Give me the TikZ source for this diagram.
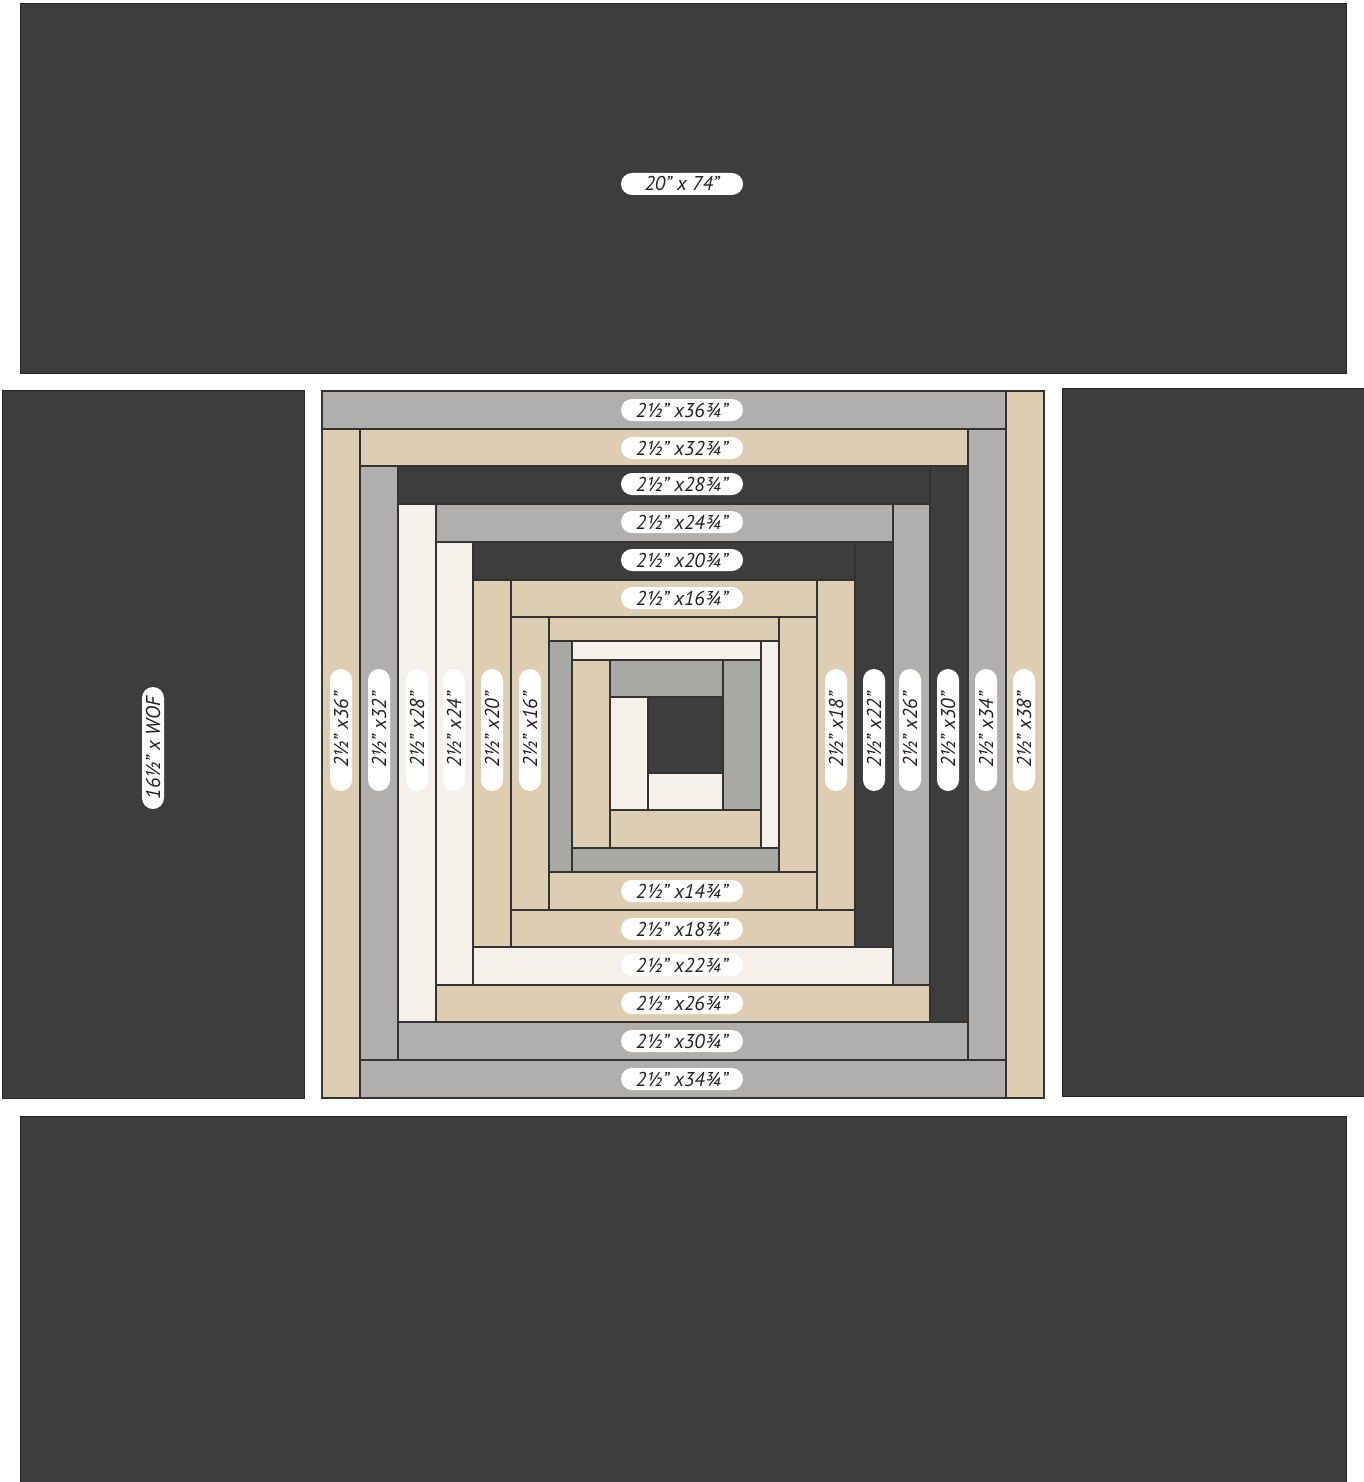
\documentclass[tikz,border=0pt]{standalone}
\usepackage{fontspec}
\setmainfont{PT Sans}
\definecolor{quiltdark}{RGB}{61,61,61}
\definecolor{quiltgray}{RGB}{176,175,173}
\definecolor{innergray}{RGB}{168,169,164}
\definecolor{quilttan}{RGB}{221,205,179}
\definecolor{quiltcream}{RGB}{245,240,234}
\definecolor{quiltink}{RGB}{35,31,32}
\tikzset{
	panel/.style={
		draw=black!85,
		fill=quiltdark,
		line width=1pt
	},
	strip/.style={
		draw=black!80,
		line width=1.2pt
	},
	tag/.style={
		fill=white,
		rounded corners=11pt,
		minimum width=122pt,
		minimum height=22pt,
		inner sep=0pt,
		text=quiltink,
		font=\itshape\fontsize{20}{20}\selectfont
	},
	vtag/.style={tag,rotate=90}
}

\begin{document}
\begin{tikzpicture}[x=1pt,y=-1pt]
	\useasboundingbox (0,0) rectangle (1364,1482);
	% background panels
	\draw[panel] (20,4) rectangle (1346,373);
	\draw[panel] (2,390) rectangle (304,1098);
	\draw[panel] (1062,388) rectangle (1364,1096);
	\draw[panel] (20,1116) rectangle (1346,1482);

	% log cabin block, outer rings
	\foreach \xa/\ya/\xb/\yb/\c in {
		322/391/1006/429/quiltgray, 1006/391/1044/1098/quilttan,
		322/429/360/1098/quilttan, 360/1060/1006/1098/quiltgray,
		968/429/1006/1060/quiltgray, 360/429/968/466/quilttan,
		360/466/398/1060/quiltgray, 398/1022/968/1060/quiltgray,
		930/466/968/1022/quiltdark, 398/466/930/504/quiltdark,
		398/504/436/1022/quiltcream, 436/985/930/1022/quilttan,
		893/504/930/985/quiltgray, 436/504/893/542/quiltgray,
		436/542/473/985/quiltcream, 473/947/893/985/quiltcream,
		855/542/893/947/quiltdark, 473/542/855/580/quiltdark,
		473/580/511/947/quilttan, 511/910/855/947/quilttan,
		817/580/855/910/quilttan, 511/580/817/617/quilttan,
		511/617/549/910/quilttan, 549/872/817/910/quilttan}
		\draw[strip,fill=\c] (\xa,\ya) rectangle (\xb,\yb);

	% inner rings
	\foreach \xa/\ya/\xb/\yb/\c in {
		779/617/817/872/quilttan, 549/617/779/641/quilttan,
		549/641/572/872/innergray, 572/848/779/872/innergray,
		761/641/779/848/quiltcream, 572/641/761/660/quiltcream,
		572/660/610/848/quilttan, 610/810/761/848/quilttan,
		723/660/761/810/innergray, 610/660/723/697/innergray,
		610/697/648/810/quiltcream, 648/773/723/810/quiltcream,
		648/697/723/773/quiltdark}
		\draw[strip,fill=\c] (\xa,\ya) rectangle (\xb,\yb);

	% cutting labels
	\node[tag] (toppanel) at (682,184) {20" x 74"};
	\node[vtag] (sidepanel) at (153,748) {16½" x WOF};
	\foreach \y/\len in {410/36¾, 448/32¾, 484/28¾, 522/24¾, 560/20¾, 598/16¾,
		891/14¾, 929/18¾, 965/22¾, 1003/26¾, 1041/30¾, 1079/34¾}
		\node[tag] (h\y) at (682,\y) {2½" x\len"};
	\foreach \x/\len in {341/36, 379/32, 417/28, 454/24, 492/20, 530/16,
		836/18, 874/22, 910/26, 948/30, 986/34, 1024/38}
		\node[vtag] (v\len) at (\x,730) {2½" x\len"};
\end{tikzpicture}
\end{document}
